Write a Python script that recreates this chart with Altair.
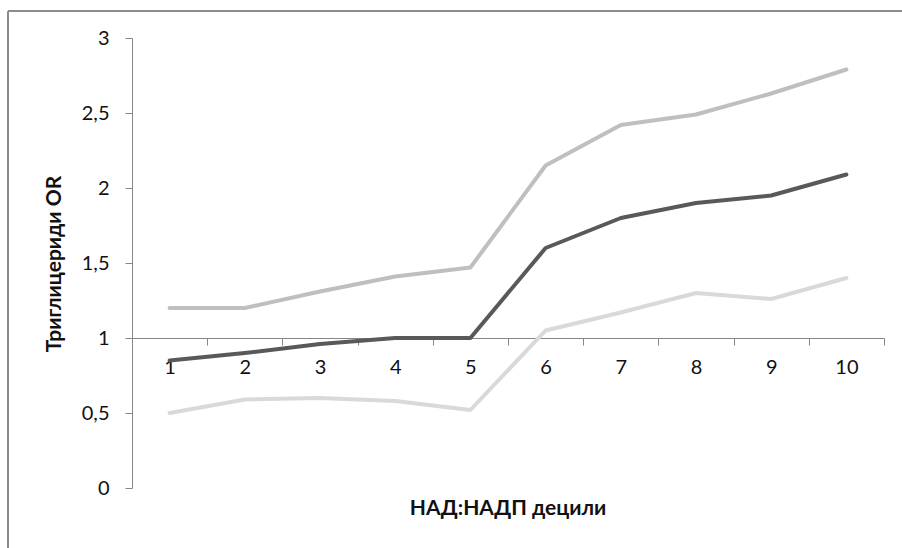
import altair as alt
import pandas as pd

deciles = ["1", "2", "3", "4", "5", "6", "7", "8", "9", "10"]
upper_ci = [1.20, 1.20, 1.31, 1.41, 1.47, 2.15, 2.42, 2.49, 2.63, 2.79]
odds_ratio = [0.85, 0.90, 0.96, 1.00, 1.00, 1.60, 1.80, 1.90, 1.95, 2.09]
lower_ci = [0.50, 0.59, 0.60, 0.58, 0.52, 1.05, 1.17, 1.30, 1.26, 1.40]
series_names = ["upper", "or", "lower"]
series_colors = ["#bfbfbf", "#595959", "#d9d9d9"]
y_ticks = [0, 0.5, 1, 1.5, 2, 2.5, 3]
x_title = "НАД:НАДП децили"
y_title = "Триглицериди OR"

rows = []
for name, vals in zip(series_names, [upper_ci, odds_ratio, lower_ci]):
    for d, v in zip(deciles, vals):
        rows.append({"decile": d, "value": v, "series": name})
df = pd.DataFrame(rows)

W, H = 752, 450
FONT = "Lato"

x_enc = alt.X(
    "decile:N",
    sort=deciles,
    scale=alt.Scale(type="band", paddingInner=0, paddingOuter=0),
    axis=alt.Axis(
        title=None,
        offset=-150,
        tickBand="extent",
        labelAngle=0,
        domainColor="#868686",
        tickColor="#868686",
        tickSize=7,
        labelPadding=12,
        labelFont=FONT,
        labelFontSize=20,
        labelColor="#111111",
    ),
)
y_enc = alt.Y(
    "value:Q",
    scale=alt.Scale(domain=[0, 3], nice=False, zero=True),
    axis=alt.Axis(
        title=None,
        values=y_ticks,
        grid=False,
        domainColor="#868686",
        tickColor="#868686",
        tickSize=7,
        labelPadding=16,
        labelFont=FONT,
        labelFontSize=20,
        labelColor="#111111",
        labelExpr="replace(format(datum.value, '.1~f'), '.', ',')",
    ),
)

lines = alt.Chart(df).mark_line(strokeWidth=4, strokeCap="round", strokeJoin="round").encode(
    x=x_enc,
    y=y_enc,
    color=alt.Color("series:N", scale=alt.Scale(domain=series_names, range=series_colors), legend=None),
    detail="series:N",
)

one = pd.DataFrame({"t": ["border"]})
top_border = alt.Chart(one).mark_rule(color="#8c8c8c", strokeWidth=2).encode(
    x=alt.value(-124), x2=alt.value(770), y=alt.value(-27)
)
left_border = alt.Chart(one).mark_rule(color="#8c8c8c", strokeWidth=2).encode(
    x=alt.value(-124), y=alt.value(-27), y2=alt.value(510)
)
xt = alt.Chart(pd.DataFrame({"t": [x_title]})).mark_text(
    font=FONT, fontSize=21, fontWeight="bold", color="#111111", baseline="middle", align="center"
).encode(x=alt.value(W / 2), y=alt.value(471), text="t:N")
yt = alt.Chart(pd.DataFrame({"t": [y_title]})).mark_text(
    font=FONT, fontSize=21, fontWeight="bold", color="#111111", baseline="middle", align="center", angle=270
).encode(x=alt.value(-77), y=alt.value(226), text="t:N")

chart = alt.layer(top_border, left_border, lines, xt, yt).properties(
    width=W,
    height=H,
    autosize=alt.AutoSizeParams(type="none"),
    padding={"left": 132, "top": 38, "right": 18, "bottom": 60},
    background="white",
).configure_view(stroke=None)

chart.save("out.html", embed_options={"renderer": "svg", "actions": False})
